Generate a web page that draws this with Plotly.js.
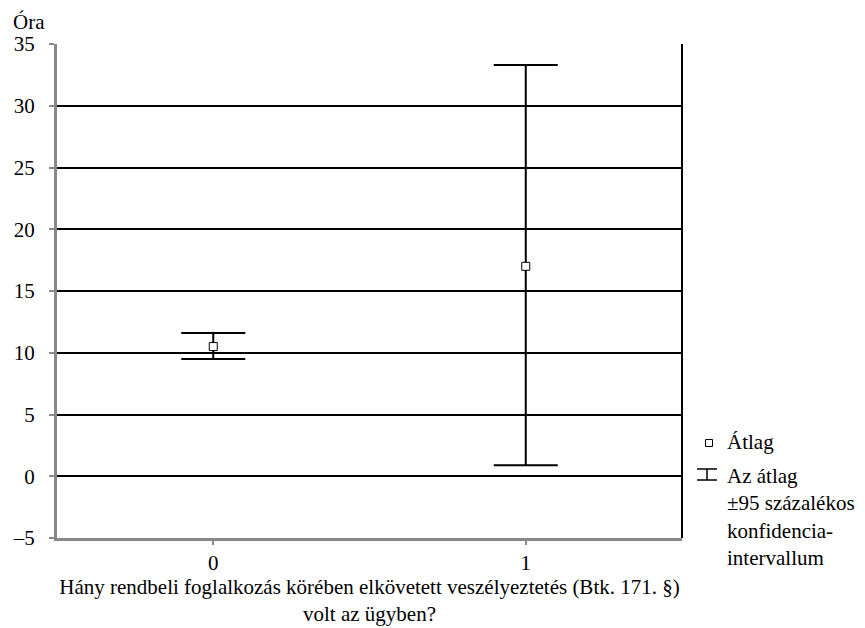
<!DOCTYPE html>
<html>
<head>
<meta charset="utf-8">
<script src="https://cdn.plot.ly/plotly-3.0.1.min.js"></script>
<style>html,body{margin:0;padding:0;background:#fff}#chart{width:865px;height:628px}</style>
</head>
<body>
<div id="chart"></div>
<script>
// Data
const categories = [0, 1];
const categoryLabels = ["0", "1"];
const means = [10.5, 17.0];
const upperCI = [11.6, 33.3];
const lowerCI = [9.5, 0.9];
const yTickVals = [-5, 0, 5, 10, 15, 20, 25, 30, 35];
const yTickText = ["\u20135", "0", "5", "10", "15", "20", "25", "30", "35"];

const font = "'Liberation Serif', 'Times New Roman', serif";
const fs = 21;

const trace = {
  x: categories,
  y: means,
  type: "scatter",
  mode: "markers",
  marker: {symbol: "square", size: 8, color: "#ffffff", line: {color: "#000000", width: 1}},
  error_y: {
    type: "data",
    symmetric: false,
    array: upperCI.map((u, i) => u - means[i]),
    arrayminus: lowerCI.map((l, i) => means[i] - l),
    color: "#000000",
    thickness: 2,
    width: 32
  },
  showlegend: false,
  hoverinfo: "none"
};

const layout = {
  width: 865,
  height: 628,
  margin: {l: 57, r: 183, t: 44, b: 90},
  paper_bgcolor: "#ffffff",
  plot_bgcolor: "#ffffff",
  font: {family: font, size: fs, color: "#000000"},
  showlegend: false,
  xaxis: {
    range: [-0.5, 1.5],
    tickvals: categories,
    ticktext: categoryLabels,
    showgrid: false,
    zeroline: false,
    showline: true,
    linecolor: "#888888",
    linewidth: 3,
    ticks: "outside",
    ticklen: 4,
    tickwidth: 2,
    tickcolor: "#888888",
    tickfont: {family: font, size: fs},
    title: {
      text: "Hány rendbeli foglalkozás körében elkövetett veszélyeztetés (Btk. 171. §)<br>volt az ügyben?",
      font: {family: font, size: fs},
      standoff: 2
    },
    fixedrange: true
  },
  yaxis: {
    range: [-5, 35],
    tickvals: yTickVals,
    ticktext: yTickText,
    showgrid: true,
    gridcolor: "#000000",
    gridwidth: 2,
    zeroline: false,
    showline: true,
    linecolor: "#888888",
    linewidth: 3,
    ticks: "outside",
    ticklen: 5,
    tickwidth: 2,
    tickcolor: "#888888",
    tickfont: {family: font, size: fs},
    ticklabelstandoff: 10,
    fixedrange: true
  },
  shapes: [
    {type: "line", xref: "paper", yref: "paper", x0: 1, x1: 1, y0: 0, y1: 1, line: {color: "#000000", width: 2}},
    // legend symbols
    {type: "rect", xref: "paper", yref: "paper", x0: 1.0376, x1: 1.0488, y0: 0.1852, y1: 0.1994, line: {color: "#000000", width: 1}, fillcolor: "#ffffff"},
    {type: "line", xref: "paper", yref: "paper", x0: 1.024, x1: 1.056, y0: 0.1397, y1: 0.1397, line: {color: "#000000", width: 1.5}},
    {type: "line", xref: "paper", yref: "paper", x0: 1.024, x1: 1.056, y0: 0.1174, y1: 0.1174, line: {color: "#000000", width: 1.5}},
    {type: "line", xref: "paper", yref: "paper", x0: 1.04, x1: 1.04, y0: 0.1174, y1: 0.1397, line: {color: "#000000", width: 1.5}}
  ],
  annotations: [
    {text: "Óra", xref: "paper", yref: "paper", x: -0.074, y: 1.0445, xanchor: "left", yanchor: "middle", showarrow: false, font: {family: font, size: fs}},
    {text: "Átlag", xref: "paper", yref: "paper", x: 1.0688, y: 0.1943, xanchor: "left", yanchor: "middle", showarrow: false, font: {family: font, size: fs}},
    {text: "Az átlag<br>±95 százalékos<br>konfidencia-<br>intervallum", xref: "paper", yref: "paper", x: 1.0688, y: 0.1538, xanchor: "left", yanchor: "top", align: "left", showarrow: false, font: {family: font, size: fs}}
  ]
};

Plotly.newPlot("chart", [trace], layout, {displayModeBar: false, staticPlot: true});
</script>
</body>
</html>
